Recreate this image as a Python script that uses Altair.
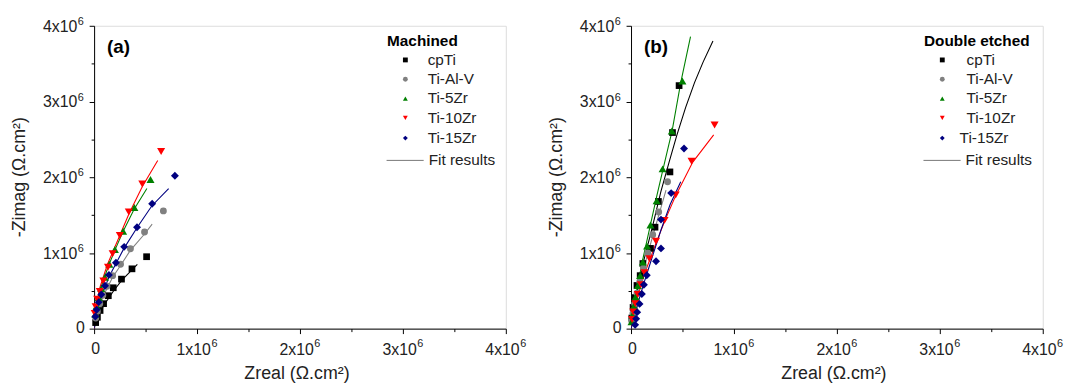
import altair as alt
import pandas as pd

# Units of the data arrays: 10^6 Ω.cm²
series = ["cpTi", "Ti-Al-V", "Ti-5Zr", "Ti-10Zr", "Ti-15Zr"]
colors = ["#000000", "#808080", "#008000", "#ff0000", "#000080"]
shapes = ["square", "circle", "triangle-up", "triangle-down", "diamond"]
sizes = [46, 48, 66, 66, 64]

# ---- Machined (a): measured points
a_cpTi_x = [0.51, 0.368, 0.266, 0.186, 0.138, 0.092, 0.058, 0.032, 0.015]
a_cpTi_y = [0.95, 0.79, 0.654, 0.54, 0.435, 0.33, 0.24, 0.15, 0.08]
a_TiAlV_x = [0.673, 0.49, 0.353, 0.257, 0.18, 0.125, 0.085, 0.055, 0.032, 0.016]
a_TiAlV_y = [1.555, 1.277, 1.055, 0.85, 0.70, 0.56, 0.44, 0.33, 0.23, 0.14]
a_Ti5_x = [0.548, 0.391, 0.282, 0.202, 0.148, 0.105, 0.07, 0.045, 0.025, 0.012]
a_Ti5_y = [1.97, 1.60, 1.285, 1.045, 0.85, 0.68, 0.53, 0.41, 0.30, 0.19]
a_Ti10_x = [0.651, 0.468, 0.337, 0.25, 0.18, 0.135, 0.09, 0.055, 0.03, 0.015, 0.006]
a_Ti10_y = [2.34, 1.91, 1.54, 1.23, 0.99, 0.81, 0.63, 0.49, 0.39, 0.29, 0.20]
a_Ti15_x = [0.785, 0.564, 0.417, 0.292, 0.212, 0.144, 0.106, 0.07, 0.045, 0.025, 0.012]
a_Ti15_y = [2.02, 1.65, 1.34, 1.08, 0.87, 0.71, 0.566, 0.45, 0.35, 0.25, 0.16]

# ---- Machined (a): fit curves
af_cpTi_x = [0, 0.015, 0.05, 0.1, 0.19, 0.27, 0.37, 0.42]
af_cpTi_y = [0, 0.08, 0.2, 0.32, 0.5, 0.64, 0.78, 0.85]
af_TiAlV_x = [0, 0.01, 0.04, 0.1, 0.18, 0.26, 0.35, 0.49, 0.564]
af_TiAlV_y = [0, 0.1, 0.26, 0.46, 0.68, 0.84, 1.03, 1.25, 1.38]
af_Ti5_x = [0, 0.005, 0.02, 0.06, 0.14, 0.2, 0.28, 0.39, 0.513]
af_Ti5_y = [0, 0.12, 0.28, 0.52, 0.83, 1.03, 1.28, 1.58, 1.85]
af_Ti10_x = [0, 0.005, 0.02, 0.06, 0.13, 0.24, 0.34, 0.47, 0.618]
af_Ti10_y = [0, 0.12, 0.3, 0.56, 0.85, 1.2, 1.52, 1.88, 2.22]
af_Ti15_x = [0, 0.008, 0.03, 0.08, 0.15, 0.29, 0.42, 0.56, 0.724]
af_Ti15_y = [0, 0.1, 0.26, 0.46, 0.7, 1.06, 1.34, 1.62, 1.85]

# ---- Double etched (b): measured points
b_cpTi_x = [0.467, 0.403, 0.378, 0.266, 0.233, 0.189, 0.115, 0.089, 0.058, 0.035, 0.02, 0.008]
b_cpTi_y = [3.21, 2.59, 2.07, 1.68, 1.34, 1.06, 0.86, 0.70, 0.57, 0.41, 0.28, 0.14]
b_TiAlV_x = [0.355, 0.269, 0.211, 0.163, 0.12, 0.085, 0.058, 0.035, 0.018, 0.007]
b_TiAlV_y = [1.94, 1.54, 1.24, 1.0, 0.8, 0.62, 0.47, 0.33, 0.2, 0.1]
b_Ti5_x = [0.499, 0.396, 0.307, 0.249, 0.189, 0.156, 0.115, 0.089, 0.067, 0.045, 0.028, 0.014, 0.005]
b_Ti5_y = [3.27, 2.61, 2.11, 1.69, 1.37, 1.09, 0.88, 0.70, 0.57, 0.42, 0.30, 0.18, 0.09]
b_Ti10_x = [0.812, 0.588, 0.434, 0.326, 0.243, 0.179, 0.131, 0.095, 0.065, 0.042, 0.022, 0.01]
b_Ti10_y = [2.69, 2.21, 1.765, 1.43, 1.154, 0.924, 0.74, 0.58, 0.45, 0.33, 0.22, 0.12]
b_Ti15_x = [0.515, 0.39, 0.291, 0.291, 0.243, 0.153, 0.125, 0.105, 0.083, 0.06, 0.05, 0.04]
b_Ti15_y = [2.38, 1.79, 1.44, 1.06, 0.89, 0.706, 0.58, 0.457, 0.327, 0.218, 0.13, 0.05]

# ---- Double etched (b): fit curves
bf_cpTi_x = [0, 0.02, 0.06, 0.12, 0.2, 0.29, 0.37, 0.444, 0.53, 0.617, 0.7, 0.796]
bf_cpTi_y = [0, 0.18, 0.5, 0.88, 1.3, 1.81, 2.2, 2.55, 2.92, 3.25, 3.52, 3.8]
bf_TiAlV_x = [0, 0.02, 0.06, 0.12, 0.2, 0.28, 0.34]
bf_TiAlV_y = [0, 0.15, 0.42, 0.78, 1.17, 1.55, 1.83]
bf_Ti5_x = [0, 0.02, 0.06, 0.12, 0.19, 0.25, 0.31, 0.4, 0.483, 0.578]
bf_Ti5_y = [0, 0.2, 0.55, 0.95, 1.38, 1.75, 2.1, 2.62, 3.25, 3.856]
bf_Ti10_x = [0, 0.02, 0.06, 0.13, 0.24, 0.33, 0.435, 0.6, 0.803]
bf_Ti10_y = [0, 0.15, 0.4, 0.72, 1.12, 1.43, 1.76, 2.2, 2.56]
bf_Ti15_x = [0, 0.03, 0.07, 0.13, 0.2, 0.29, 0.38, 0.483]
bf_Ti15_y = [0, 0.12, 0.35, 0.62, 0.92, 1.3, 1.64, 1.94]

# axis ticks and labels
tick_values = [0, 0.5, 1, 1.5, 2, 2.5, 3, 3.5, 4]
label_values = [1, 2, 3, 4]
label_mantissa = ["1x10", "2x10", "3x10", "4x10"]
label_exponent = "6"
x_title = "Zreal (\u03a9.cm\u00b2)"
y_title = "-Zimag (\u03a9.cm\u00b2)"

FONT = "Liberation Sans"
TXT = "#222222"
W, H = 416, 306


def make_df(xs, ys):
    rows = []
    for name, (x, y) in zip(series, zip(xs, ys)):
        for i, (a, b) in enumerate(zip(x, y)):
            rows.append({"series": name, "x": a, "y": b, "i": i})
    return pd.DataFrame(rows)


tick_size = {"condition": {"test": "datum.value % 1 === 0", "value": 5}, "value": 3}


def axis():
    return alt.Axis(values=tick_values, labels=False, title=None, grid=False,
                    domainColor="#000", tickColor="#000", tickSize=tick_size)


SX = alt.Scale(domain=[0, 4], nice=False, zero=False)
SY = alt.Scale(domain=[0, 4], nice=False, zero=False)
lab_df = pd.DataFrame({"v": label_values, "t": label_mantissa, "e": label_exponent})
one = pd.DataFrame({"k": [0]})


def txt(text, size, x, y, weight="normal", align="left", angle=0, color=TXT):
    kw = dict(text=text, font=FONT, fontSize=size, fontWeight=weight, align=align,
              baseline="middle", color=color)
    if angle:
        kw["angle"] = angle
    return alt.Chart(one).mark_text(**kw).encode(x=alt.value(x), y=alt.value(y))


def panel(pts, fits, tag, head, label_dx):
    X = alt.X("x:Q", scale=SX, axis=axis())
    Y = alt.Y("y:Q", scale=SY, axis=axis())
    layers = []
    for s, c in zip(series, colors):
        d = fits[fits.series == s]
        layers.append(alt.Chart(d).mark_line(color=c, strokeWidth=1.1, clip=True)
                      .encode(x=X, y=Y, order="i:Q"))
    for s, c, sh, sz in zip(series, colors, shapes, sizes):
        d = pts[pts.series == s]
        layers.append(alt.Chart(d).mark_point(filled=True, opacity=1, color=c,
                                              shape=sh, size=sz, strokeWidth=0)
                      .encode(x=X, y=Y))
    # tick labels (mantissa + superscript exponent)
    XV = alt.X("v:Q", scale=SX, axis=axis())
    YV = alt.Y("v:Q", scale=SY, axis=axis())
    layers.append(alt.Chart(lab_df).mark_text(font=FONT, fontSize=16, align="right",
                                              baseline="middle", color=TXT, dx=14)
                  .encode(x=XV, y=alt.value(H + 22), text="t:N"))
    layers.append(alt.Chart(lab_df).mark_text(font=FONT, fontSize=11, align="left",
                                              baseline="middle", color=TXT, dx=14.5)
                  .encode(x=XV, y=alt.value(H + 15.5), text="e:N"))
    layers.append(alt.Chart(lab_df).mark_text(font=FONT, fontSize=16, align="right",
                                              baseline="middle", color=TXT, dy=1)
                  .encode(y=YV, x=alt.value(-17), text="t:N"))
    layers.append(alt.Chart(lab_df).mark_text(font=FONT, fontSize=11, align="left",
                                              baseline="middle", color=TXT, dy=-4)
                  .encode(y=YV, x=alt.value(-16.5), text="e:N"))
    layers.append(txt("0", 16, 1.5, H + 20.5, align="center"))
    layers.append(txt("0", 16, -9.5, H - 1, align="right"))
    # axis titles
    layers.append(txt(x_title, 18, W / 2 - 3, H + 46, align="center"))
    layers.append(txt(y_title, 18, -75, H / 2, align="center", angle=270))
    # panel tag and legend
    layers.append(txt(tag, 19, 13, 21, weight="bold", color="#000"))
    layers.append(txt(head, 15.5, 296, 15, weight="bold", color="#000"))
    rows_y = [34.5, 54, 73.5, 93, 113.5]
    for k, (s, c, sh) in enumerate(zip(series, colors, shapes)):
        layers.append(alt.Chart(one).mark_point(filled=True, opacity=1, color=c,
                                                shape=sh, size=24, strokeWidth=0)
                      .encode(x=alt.value(314.5), y=alt.value(rows_y[k])))
        layers.append(txt(s, 15.5, label_dx[k], rows_y[k]))
    layers.append(alt.Chart(one).mark_rule(color="#777", strokeWidth=1)
                  .encode(x=alt.value(295.5), x2=alt.value(333), y=alt.value(136)))
    layers.append(txt("Fit results", 15.5, 338, 136))
    return alt.layer(*layers).properties(width=W, height=H)


pa = make_df([a_cpTi_x, a_TiAlV_x, a_Ti5_x, a_Ti10_x, a_Ti15_x],
             [a_cpTi_y, a_TiAlV_y, a_Ti5_y, a_Ti10_y, a_Ti15_y])
fa = make_df([af_cpTi_x, af_TiAlV_x, af_Ti5_x, af_Ti10_x, af_Ti15_x],
             [af_cpTi_y, af_TiAlV_y, af_Ti5_y, af_Ti10_y, af_Ti15_y])
pb = make_df([b_cpTi_x, b_TiAlV_x, b_Ti5_x, b_Ti10_x, b_Ti15_x],
             [b_cpTi_y, b_TiAlV_y, b_Ti5_y, b_Ti10_y, b_Ti15_y])
fb = make_df([bf_cpTi_x, bf_TiAlV_x, bf_Ti5_x, bf_Ti10_x, bf_Ti15_x],
             [bf_cpTi_y, bf_TiAlV_y, bf_Ti5_y, bf_Ti10_y, bf_Ti15_y])

left = panel(pa, fa, "(a)", "Machined", [337, 337, 337, 337, 337])
right = panel(pb, fb, "(b)", "Double etched", [339, 339, 339, 339, 332])

chart = (alt.hconcat(left, right, spacing=19.5)
         .properties(padding={"left": 2, "top": 5, "right": 2, "bottom": 2})
         .configure_view(stroke="#000", strokeWidth=1)
         .configure(background="white"))

chart.save("out.html", embed_options={"renderer": "svg", "actions": False})
